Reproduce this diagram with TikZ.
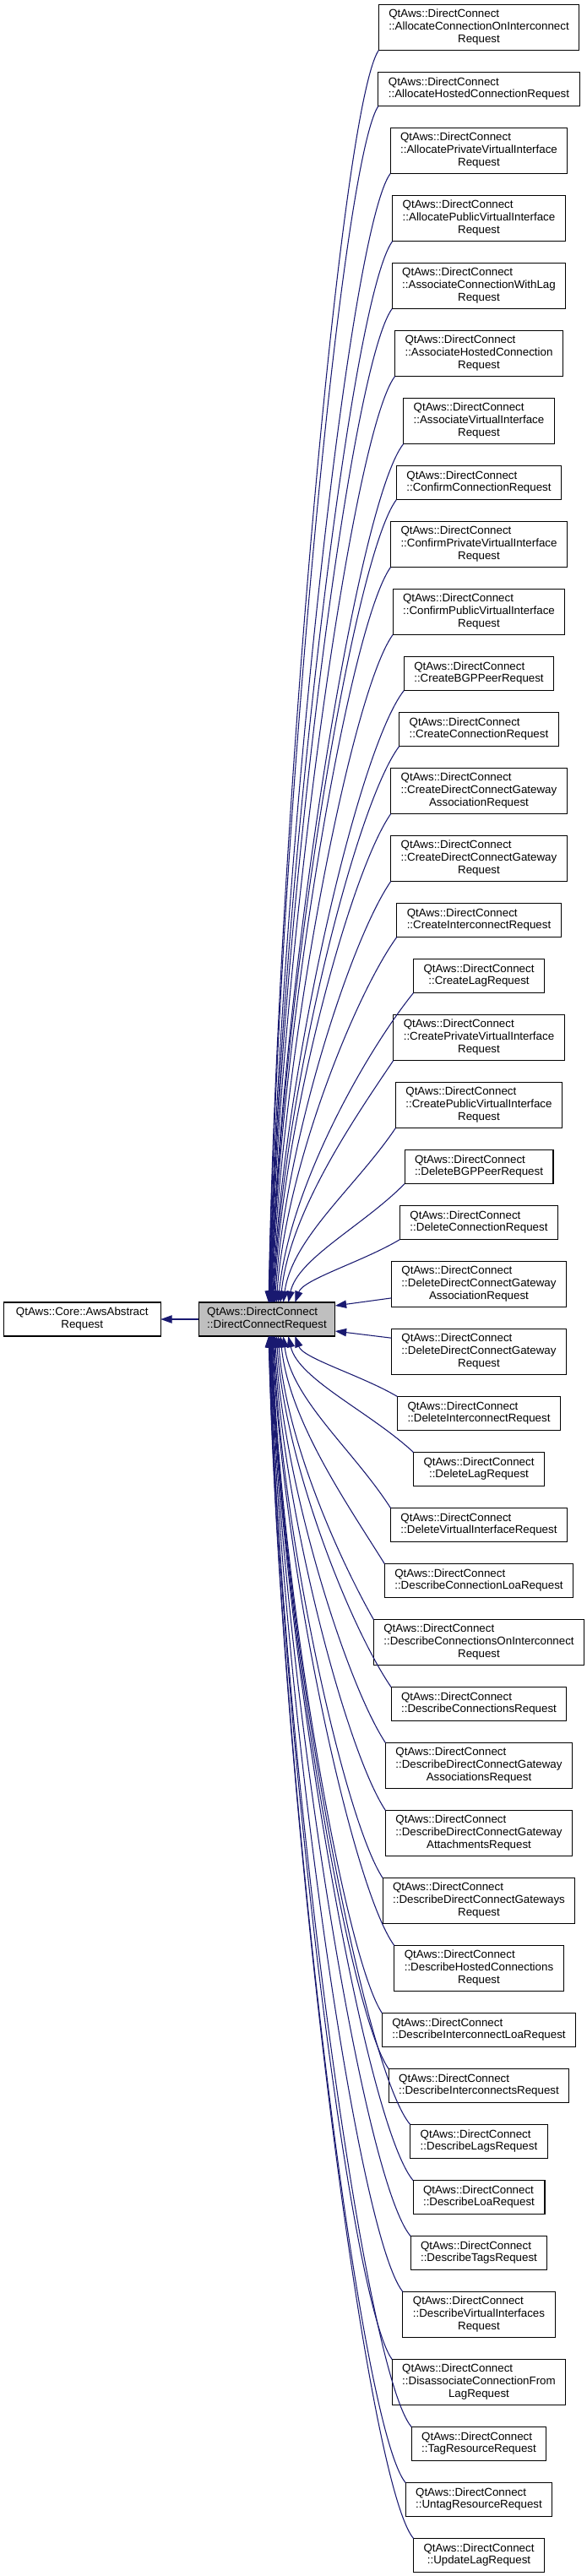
\documentclass[tikz,border=0pt]{standalone}
\usepackage{fontspec}
\setmainfont{Liberation Sans}
\usetikzlibrary{positioning,arrows.meta,calc}

\definecolor{edgeblue}{HTML}{191970}
\definecolor{basegray}{HTML}{BFBFBF}

% class labels: lines left aligned, last line centred
\newcommand{\twoline}[2]{\begin{tabular}{@{}l@{}}#1\\\multicolumn{1}{@{}c@{}}{#2}\end{tabular}}
\newcommand{\dcb}[1]{\twoline{QtAws::DirectConnect}{#1}}
\newcommand{\dcc}[2]{\begin{tabular}{@{}l@{}}QtAws::DirectConnect\\#1\\\multicolumn{1}{@{}c@{}}{#2}\end{tabular}}

\begin{document}
\begin{tikzpicture}%
  [cls/.style=
    {draw,fill=white,line width=0.8pt,font=\fontsize{10}{11}\selectfont,
     inner xsep=9pt,inner ysep=0pt,outer sep=0pt,minimum height=30pt},
   cls3/.style={cls,minimum height=40.5pt},
   basecls/.style={cls,fill=basegray,inner xsep=7.5pt},
   inherits/.style={draw=edgeblue,line width=0.8pt,{Triangle[length=10pt,width=7pt]}-},
   node distance=19.5pt
  ]
  \useasboundingbox (0,0) rectangle (521.25pt,-2287.5pt);
  \node[basecls] (dcr) at (237pt,-1171.5pt) {\dcb{::DirectConnectRequest}};
  \node[cls,minimum width=139.5pt,left=33.75pt of dcr] (aws) {\twoline{QtAws::Core::AwsAbstract}{Request}};
  \draw[inherits] (aws) -- (dcr);
  % derived classes
  \node[cls3] (aconi) at (425.25pt,-24.4pt) {\dcc{::AllocateConnectionOnInterconnect}{Request}};
  \node[cls,below=of aconi] (ahc) {\dcb{::AllocateHostedConnectionRequest}};
  \node[cls3,below=of ahc] (apvi) {\dcc{::AllocatePrivateVirtualInterface}{Request}};
  \node[cls3,below=of apvi] (apubvi) {\dcc{::AllocatePublicVirtualInterface}{Request}};
  \node[cls3,below=of apubvi] (acwl) {\dcc{::AssociateConnectionWithLag}{Request}};
  \node[cls3,below=of acwl] (ahcon) {\dcc{::AssociateHostedConnection}{Request}};
  \node[cls3,below=of ahcon] (avi) {\dcc{::AssociateVirtualInterface}{Request}};
  \node[cls,below=of avi] (cc) {\dcb{::ConfirmConnectionRequest}};
  \node[cls3,below=of cc] (cpvi) {\dcc{::ConfirmPrivateVirtualInterface}{Request}};
  \node[cls3,below=of cpvi] (cpubvi) {\dcc{::ConfirmPublicVirtualInterface}{Request}};
  \node[cls,below=of cpubvi] (cbgp) {\dcb{::CreateBGPPeerRequest}};
  \node[cls,below=of cbgp] (ccon) {\dcb{::CreateConnectionRequest}};
  \node[cls3,below=of ccon] (cdcga) {\dcc{::CreateDirectConnectGateway}{AssociationRequest}};
  \node[cls3,below=of cdcga] (cdcg) {\dcc{::CreateDirectConnectGateway}{Request}};
  \node[cls,below=of cdcg] (ci) {\dcb{::CreateInterconnectRequest}};
  \node[cls,below=of ci] (cl) {\dcb{::CreateLagRequest}};
  \node[cls3,below=of cl] (cprvi) {\dcc{::CreatePrivateVirtualInterface}{Request}};
  \node[cls3,below=of cprvi] (cpbvi) {\dcc{::CreatePublicVirtualInterface}{Request}};
  \node[cls,below=of cpbvi] (dbgp) {\dcb{::DeleteBGPPeerRequest}};
  \node[cls,below=of dbgp] (dcon) {\dcb{::DeleteConnectionRequest}};
  \node[cls3,below=of dcon] (ddcga) {\dcc{::DeleteDirectConnectGateway}{AssociationRequest}};
  \node[cls3,below=of ddcga] (ddcg) {\dcc{::DeleteDirectConnectGateway}{Request}};
  \node[cls,below=of ddcg] (di) {\dcb{::DeleteInterconnectRequest}};
  \node[cls,below=of di] (dl) {\dcb{::DeleteLagRequest}};
  \node[cls,below=of dl] (dvi) {\dcb{::DeleteVirtualInterfaceRequest}};
  \node[cls,below=of dvi] (dcloa) {\dcb{::DescribeConnectionLoaRequest}};
  \node[cls3,below=of dcloa] (dcoi) {\dcc{::DescribeConnectionsOnInterconnect}{Request}};
  \node[cls,below=of dcoi] (dc) {\dcb{::DescribeConnectionsRequest}};
  \node[cls3,below=of dc] (ddcgas) {\dcc{::DescribeDirectConnectGateway}{AssociationsRequest}};
  \node[cls3,below=of ddcgas] (ddcgat) {\dcc{::DescribeDirectConnectGateway}{AttachmentsRequest}};
  \node[cls3,below=of ddcgat] (ddcgs) {\dcc{::DescribeDirectConnectGateways}{Request}};
  \node[cls3,below=of ddcgs] (dhc) {\dcc{::DescribeHostedConnections}{Request}};
  \node[cls,below=of dhc] (diloa) {\dcb{::DescribeInterconnectLoaRequest}};
  \node[cls,below=of diloa] (dis) {\dcb{::DescribeInterconnectsRequest}};
  \node[cls,below=of dis] (dlags) {\dcb{::DescribeLagsRequest}};
  \node[cls,below=of dlags] (dloa) {\dcb{::DescribeLoaRequest}};
  \node[cls,below=of dloa] (dtags) {\dcb{::DescribeTagsRequest}};
  \node[cls3,below=of dtags] (dvis) {\dcc{::DescribeVirtualInterfaces}{Request}};
  \node[cls3,below=of dvis] (dcfl) {\dcc{::DisassociateConnectionFrom}{LagRequest}};
  \node[cls,below=of dcfl] (tr) {\dcb{::TagResourceRequest}};
  \node[cls,below=of tr] (ur) {\dcb{::UntagResourceRequest}};
  \node[cls,below=of ur] (ul) {\dcb{::UpdateLagRequest}};
  % inheritance edges, upper half
  \foreach \cn/\dx in {aconi/1.5pt,ahc/1.8pt,apvi/2.1pt,apubvi/2.4pt,acwl/2.7pt,
      ahcon/3pt,avi/3.3pt,cc/3.6pt,cpvi/4pt,cpubvi/4.5pt,cbgp/5pt,ccon/5.6pt,
      cdcga/6.3pt,cdcg/7.2pt,ci/8.4pt,cl/10pt,cprvi/12pt,cpbvi/14.5pt,dbgp/19pt,dcon/25pt}
    \draw[inherits] let \p1=([xshift=\dx]dcr.north), \p2=(\cn.south west) in
      (\p1) .. controls +({0.08*(\x2-\x1)},{0.37*(\y2-\y1)})
        and +({-min(0.35*(\x2-\x1),43.5pt)},{-min(0.35*(\y2-\y1),52pt)}) .. (\p2);
  % lower half
  \foreach \cn/\dx in {di/25pt,dl/19pt,dvi/14.5pt,dcloa/12pt,dcoi/10pt,dc/8.4pt,
      ddcgas/7.2pt,ddcgat/6.3pt,ddcgs/5.6pt,dhc/5pt,diloa/4.5pt,dis/4pt,dlags/3.6pt,
      dloa/3.3pt,dtags/3pt,dvis/2.7pt,dcfl/2.4pt,tr/2.1pt,ur/1.8pt,ul/1.5pt}
    \draw[inherits] let \p1=([xshift=\dx]dcr.south), \p2=(\cn.north west) in
      (\p1) .. controls +({0.08*(\x2-\x1)},{-0.37*(\y1-\y2)})
        and +({-min(0.35*(\x2-\x1),43.5pt)},{min(0.35*(\y1-\y2),52pt)}) .. (\p2);
  % the two at the side
  \draw[inherits] ([yshift=12pt]dcr.east) -- ([yshift=8pt]ddcga.south west);
  \draw[inherits] ([yshift=-10.5pt]dcr.east) -- ([yshift=-8pt]ddcg.north west);
\end{tikzpicture}
\end{document}
